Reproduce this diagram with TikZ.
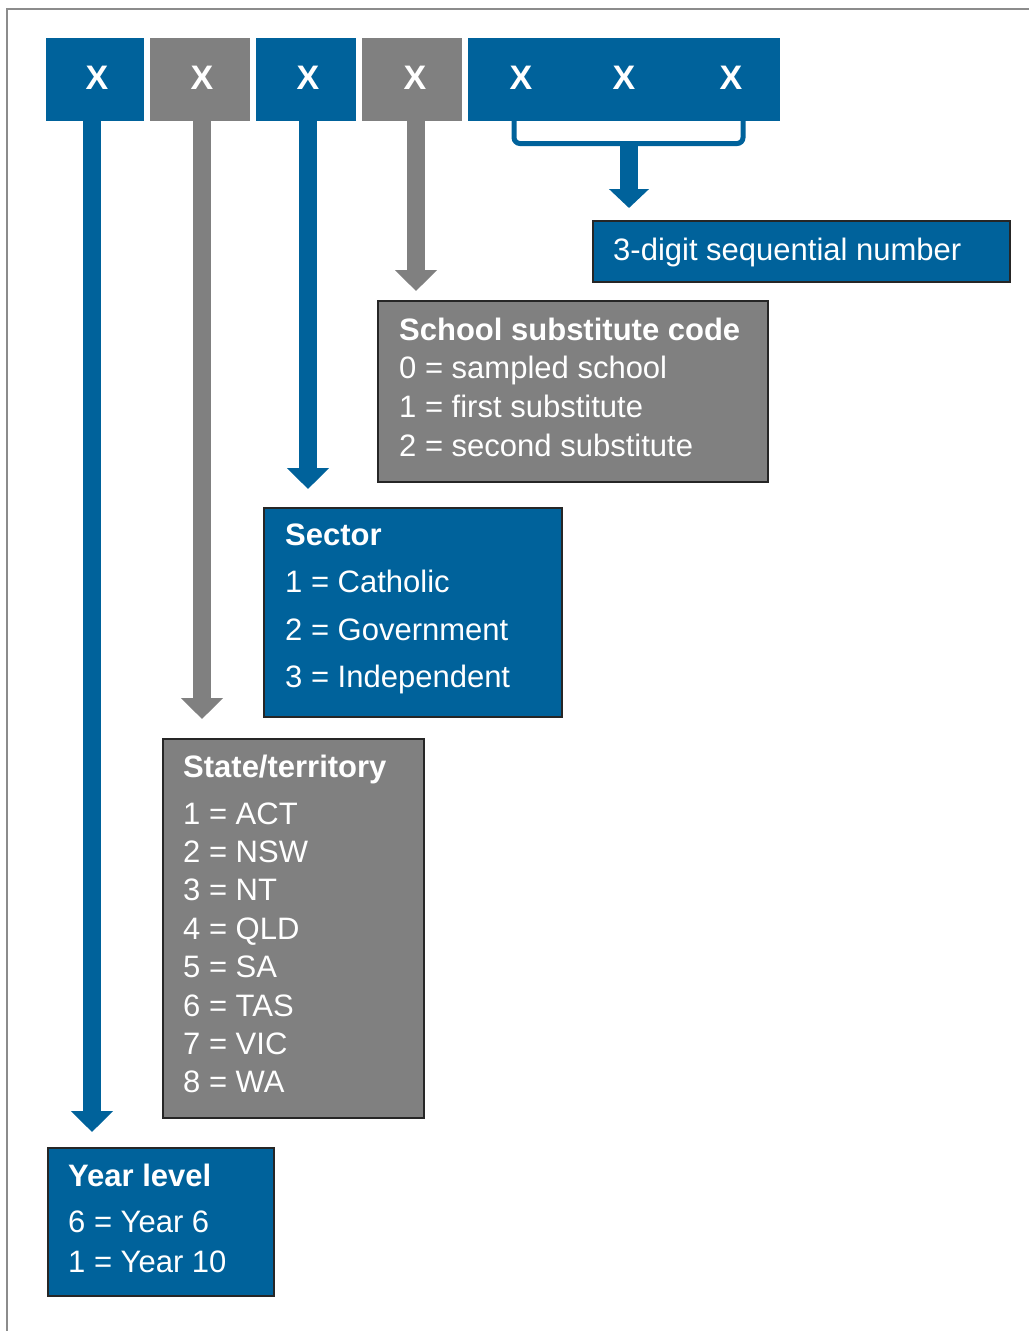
\documentclass[tikz,border=0pt]{standalone}
\usepackage{fontspec}
\setmainfont{Liberation Sans}
\usetikzlibrary{arrows.meta}
\definecolor{codeblue}{RGB}{0,98,155}
\definecolor{codegray}{RGB}{128,128,128}
\definecolor{framegray}{RGB}{140,140,140}
\begin{document}
\begin{tikzpicture}[x=1pt,y=-1pt,
  topbox/.style={fill=#1, inner sep=0pt, outer sep=0pt, minimum height=83pt},
  descbox/.style={fill=#1, draw=black!85, line width=1.5pt, inner sep=0pt, outer sep=0pt},
  digit/.style={text=white, font=\fontsize{34}{40}\selectfont\bfseries, inner sep=0pt},
  title/.style={anchor=base west, inner sep=0pt, text=white, font=\fontsize{31}{37}\selectfont\bfseries},
  entry/.style={anchor=base west, inner sep=0pt, text=white, font=\fontsize{31}{37}\selectfont},
  pointer/.style={draw=#1, line width=18pt, -{Triangle[width=41pt,length=21pt]}}
]
\useasboundingbox (0,0) rectangle (1029,1331);
% outer frame (top and left edges)
\draw[framegray, line width=2pt] (7,1331) -- (7,9) -- (1029,9);

% the code digits
\node[topbox=codeblue, minimum width=98pt]  (b1) at (95,79.5) {};
\node[topbox=codegray, minimum width=100pt] (b2) at (200,79.5) {};
\node[topbox=codeblue, minimum width=100pt] (b3) at (306,79.5) {};
\node[topbox=codegray, minimum width=100pt] (b4) at (412,79.5) {};
\node[topbox=codeblue, minimum width=312pt] (b5) at (624,79.5) {};
\node[digit] (x1) at (97,77.5) {X};
\node[digit] (x2) at (202,77.5) {X};
\node[digit] (x3) at (308,77.5) {X};
\node[digit] (x4) at (415,77.5) {X};
\node[digit] (x5) at (521,77.5) {X};
\node[digit] (x6) at (624,77.5) {X};
\node[digit] (x7) at (731,77.5) {X};

% description boxes
\node[descbox=codeblue, minimum width=417pt, minimum height=61pt]  (seq)  at (801.5,251.5) {};
\node[descbox=codegray, minimum width=390pt, minimum height=181pt] (sub)  at (573,391.5) {};
\node[descbox=codeblue, minimum width=298pt, minimum height=209pt] (sec)  at (413,612.5) {};
\node[descbox=codegray, minimum width=261pt, minimum height=379pt] (st)   at (293.5,928.5) {};
\node[descbox=codeblue, minimum width=226pt, minimum height=148pt] (yl)   at (161,1222) {};

\node[entry] (seq-t) at (613,260) {3-digit sequential number};

\node[title] (sub-t) at (399,340) {School substitute code};
\node[entry] (sub-0) at (399,378) {0 = sampled school};
\node[entry] (sub-1) at (399,417) {1 = first substitute};
\node[entry] (sub-2) at (399,456) {2 = second substitute};

\node[title] (sec-t) at (285,545) {Sector};
\node[entry] (sec-1) at (285,592) {1 = Catholic};
\node[entry] (sec-2) at (285,640) {2 = Government};
\node[entry] (sec-3) at (285,687) {3 = Independent};

\node[title] (st-t) at (183,777) {State/territory};
\foreach \k/\s [count=\i] in {1/ACT,2/NSW,3/NT,4/QLD,5/SA,6/TAS,7/VIC,8/WA}
  \node[entry] (st-\i) at (183,{824+38.4*(\i-1)}) {\k{} = \s};

\node[title] (yl-t) at (68,1186) {Year level};
\node[entry] (yl-1) at (68,1232) {6 = Year 6};
\node[entry] (yl-2) at (68,1272) {1 = Year 10};

% pointers from the digits to their meanings
\draw[pointer=codeblue, shorten >=16pt] ([xshift=-3pt]b1.south) -- ([xshift=-3pt]b1.south |- yl.north);
\draw[pointer=codegray, shorten >=20pt] ([xshift=2pt]b2.south) -- ([xshift=2pt]b2.south |- st.north);
\draw[pointer=codeblue, shorten >=19pt] ([xshift=2pt]b3.south) -- ([xshift=2pt]b3.south |- sec.north);
\draw[pointer=codegray, shorten >=10pt] ([xshift=4pt]b4.south) -- ([xshift=4pt]b4.south |- sub.north);

% bracket grouping the last three digits
\coordinate (brL) at (514,121);
\coordinate (brR) at (743,121);
\coordinate (brM) at (629,143.5);
\draw[codeblue, line width=5pt, rounded corners=6pt] (brL) -- (brL |- brM) -- (brR |- brM) -- (brR);
\draw[codeblue, line width=18pt, -{Triangle[width=39pt,length=19pt]}, shorten >=13pt] ([yshift=-2pt]brM) -- (brM |- seq.north);
\end{tikzpicture}
\end{document}
